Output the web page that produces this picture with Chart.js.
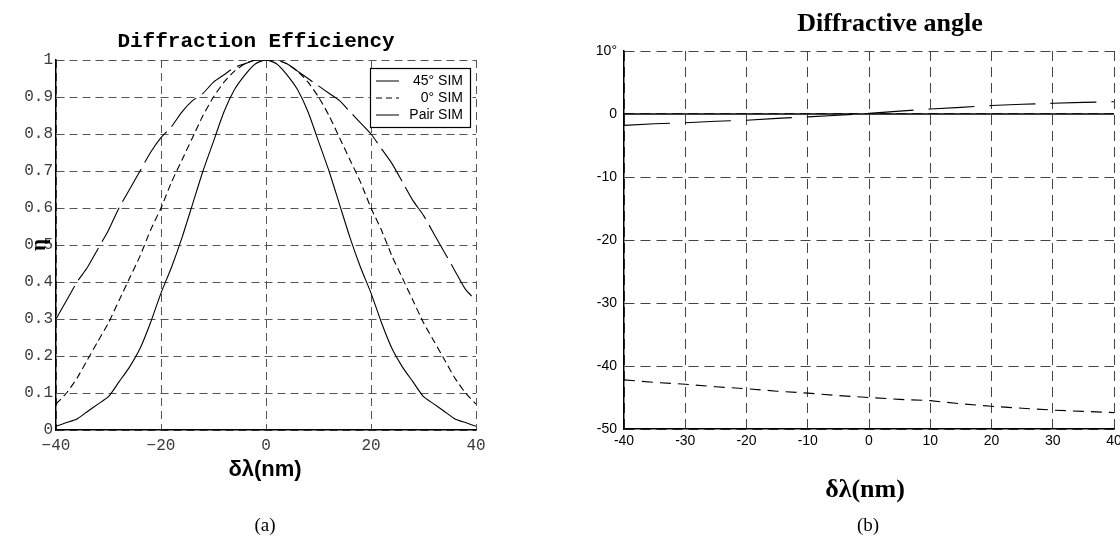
<!DOCTYPE html>
<html>
<head>
<meta charset="utf-8">
<script src="https://cdn.jsdelivr.net/npm/chart.js@4/dist/chart.umd.min.js"></script>
<style>
html,body{margin:0;padding:0;background:#fff;overflow:hidden;width:1120px;height:541px;}
#wl{position:absolute;left:0;top:0;width:540px;height:541px;}
#wr{position:absolute;left:540px;top:0;width:600px;height:541px;}
</style>
</head>
<body>
<div id="wl"><canvas id="cl"></canvas></div>
<div id="wr"><canvas id="cr"></canvas></div>
<script>
// ---- Data: chart (a) Diffraction Efficiency ----
const wavelength = [-40,-38,-36,-34,-32,-30,-28,-26,-24,-22,-20,-18,-16,-14,-12,-10,-8,-6,-4,-2,0,2,4,6,8,10,12,14,16,18,20,22,24,26,28,30,32,34,36,38,40];
const eta45 = [0.30,0.35,0.40,0.44,0.49,0.54,0.60,0.65,0.70,0.75,0.79,0.82,0.86,0.89,0.91,0.94,0.96,0.98,0.99,1.00,1.00,1.00,0.99,0.97,0.95,0.93,0.91,0.89,0.86,0.83,0.80,0.76,0.72,0.67,0.62,0.58,0.53,0.48,0.43,0.38,0.35];
const eta0 = [0.07,0.10,0.14,0.19,0.24,0.29,0.35,0.41,0.47,0.54,0.60,0.67,0.73,0.79,0.85,0.90,0.94,0.97,0.99,1.00,1.00,1.00,0.99,0.97,0.94,0.90,0.85,0.79,0.73,0.67,0.60,0.54,0.47,0.41,0.35,0.29,0.24,0.19,0.14,0.10,0.07];
const etaPair = [0.01,0.02,0.03,0.05,0.07,0.09,0.13,0.17,0.22,0.29,0.37,0.44,0.52,0.61,0.70,0.78,0.86,0.92,0.96,0.99,1.00,0.99,0.96,0.92,0.86,0.78,0.70,0.61,0.52,0.44,0.37,0.29,0.22,0.17,0.13,0.09,0.07,0.05,0.03,0.02,0.01];
const seriesNamesA = ['45\u00B0 SIM','0\u00B0 SIM','Pair SIM'];

// ---- Data: chart (b) Diffractive angle ----
const angleWavelength = [-40,-35,-30,-25,-20,-15,-10,-5,0,5,10,15,20,25,30,35,40];
const angleUpper = [-1.8,-1.55,-1.4,-1.15,-1.0,-0.7,-0.45,-0.2,0.1,0.45,0.8,1.05,1.35,1.55,1.7,1.85,1.95];
const angleLower = [-42.2,-42.6,-42.9,-43.3,-43.6,-44.0,-44.3,-44.7,-45.0,-45.3,-45.5,-46.0,-46.4,-46.7,-47.0,-47.2,-47.4];
const angleZero = [0,0,0,0,0,0,0,0,0,0,0,0,0,0,0,0,0];

function pts(xs, ys){ return xs.map((x,i)=>({x:x, y:ys[i]})); }

// ---------- Chart (a) ----------
const decorLeft = {
  id:'decorLeft',
  afterDraw(chart){
    const ctx = chart.ctx;
    ctx.save();
    ctx.fillStyle = '#000';
    ctx.textAlign = 'center';
    ctx.textBaseline = 'middle';
    ctx.font = 'bold 21px "Liberation Mono"';
    ctx.fillText('Diffraction Efficiency', 256, 42);
    ctx.font = 'bold 22px "Liberation Sans"';
    ctx.fillText('\u03B4\u03BB(nm)', 265, 470);
    ctx.font = '19px "Liberation Serif"';
    ctx.fillText('(a)', 265, 526);
    ctx.save();
    ctx.translate(40, 245);
    ctx.rotate(-Math.PI/2);
    ctx.font = 'bold 21px "Liberation Serif"';
    ctx.fillText('\u03B7', 0, 0);
    ctx.restore();
    // legend box
    const bx = 370.5, by = 68.5, bw = 100, bh = 59;
    ctx.fillStyle = '#fff';
    ctx.fillRect(bx, by, bw, bh);
    ctx.strokeStyle = '#000';
    ctx.lineWidth = 1.2;
    ctx.strokeRect(bx, by, bw, bh);
    const rows = [81, 98, 115];
    chart.data.datasets.forEach((ds, i) => {
      ctx.save();
      ctx.strokeStyle = '#000';
      ctx.lineWidth = 1;
      ctx.setLineDash(i === 1 ? [6,4] : []);
      ctx.beginPath();
      ctx.moveTo(376, rows[i]);
      ctx.lineTo(399, rows[i]);
      ctx.stroke();
      ctx.restore();
      ctx.fillStyle = '#000';
      ctx.textAlign = 'right';
      ctx.font = '14px "Liberation Sans"';
      ctx.fillText(ds.label, 463, rows[i]);
    });
    ctx.restore();
  }
};

new Chart(document.getElementById('cl'), {
  type: 'line',
  data: {
    datasets: [
      {label: seriesNamesA[0], data: pts(wavelength, eta45), borderColor:'#000', borderWidth:1.1, borderDash:[38,7], pointRadius:0, fill:false, tension:0.2},
      {label: seriesNamesA[1], data: pts(wavelength, eta0), borderColor:'#000', borderWidth:1.1, borderDash:[7,4], pointRadius:0, fill:false, tension:0.2},
      {label: seriesNamesA[2], data: pts(wavelength, etaPair), borderColor:'#000', borderWidth:1.1, pointRadius:0, fill:false, tension:0.2}
    ]
  },
  options: {
    responsive: true,
    maintainAspectRatio: false,
    animation: false,
    events: [],
    layout: {padding: {left:0, top:60, right:64, bottom:81}},
    plugins: {legend:{display:false}, title:{display:false}, tooltip:{enabled:false}},
    scales: {
      x: {
        type:'linear', min:-40, max:40,
        afterFit: s => { s.height = 30; },
        ticks: {stepSize:20, color:'#3a3a3a', padding:6, font:{family:'"Liberation Mono"', size:16},
          maxRotation:0, autoSkip:false,
          callback: v => v < 0 ? '\u2212' + Math.abs(v) : String(v)},
        grid: {color:'#555', lineWidth:1, drawTicks:false},
        border: {display:true, color:'#000', width:1.5, dash:[8,5]}
      },
      y: {
        type:'linear', min:0, max:1,
        afterFit: s => { s.width = 56; },
        ticks: {stepSize:0.1, color:'#3a3a3a', padding:3, font:{family:'"Liberation Mono"', size:16},
          autoSkip:false,
          callback: v => { const r = Math.round(v*10)/10; return r === 0 ? '0' : (r === 1 ? '1' : r.toFixed(1)); }},
        grid: {color:'#555', lineWidth:1, drawTicks:false},
        border: {display:true, color:'#000', width:1.5, dash:[8,5]}
      }
    }
  },
  plugins: [decorLeft]
});

// ---------- Chart (b) ----------
const decorRight = {
  id:'decorRight',
  afterDraw(chart){
    const ctx = chart.ctx;
    ctx.save();
    ctx.fillStyle = '#000';
    ctx.textAlign = 'center';
    ctx.textBaseline = 'middle';
    ctx.font = 'bold 26px "Liberation Serif"';
    ctx.fillText('Diffractive angle', 350, 24);
    ctx.fillText('\u03B4\u03BB(nm)', 325, 490);
    ctx.font = '19px "Liberation Serif"';
    ctx.fillText('(b)', 328, 526);
    ctx.restore();
  }
};

new Chart(document.getElementById('cr'), {
  type: 'line',
  data: {
    datasets: [
      {label:'upper', data: pts(angleWavelength, angleUpper), borderColor:'#000', borderWidth:1.1, borderDash:[46,15], pointRadius:0, fill:false},
      {label:'zero', data: pts(angleWavelength, angleZero), borderColor:'#000', borderWidth:1.6, pointRadius:0, fill:false},
      {label:'lower', data: pts(angleWavelength, angleLower), borderColor:'#000', borderWidth:1.1, borderDash:[11,7], pointRadius:0, fill:false}
    ]
  },
  options: {
    responsive: true,
    maintainAspectRatio: false,
    animation: false,
    events: [],
    layout: {padding: {left:0, top:51, right:26, bottom:82}},
    plugins: {legend:{display:false}, title:{display:false}, tooltip:{enabled:false}},
    scales: {
      x: {
        type:'linear', min:-40, max:40,
        afterFit: s => { s.height = 30; },
        ticks: {stepSize:10, color:'#000', padding:4, font:{family:'"Liberation Sans"', size:14},
          maxRotation:0, autoSkip:false, callback: v => String(v)},
        grid: {color:'#444', lineWidth:1, drawTicks:false},
        border: {display:true, color:'#000', width:1.5, dash:[10,6]}
      },
      y: {
        type:'linear', min:-50, max:10,
        afterFit: s => { s.width = 84; },
        ticks: {stepSize:10, color:'#000', padding:7, font:{family:'"Liberation Sans"', size:14},
          autoSkip:false, callback: v => v === 10 ? '10\u00B0' : String(v)},
        grid: {color:'#444', lineWidth:1, drawTicks:false},
        border: {display:true, color:'#000', width:1.5, dash:[10,6]}
      }
    }
  },
  plugins: [decorRight]
});
</script>
</body>
</html>
